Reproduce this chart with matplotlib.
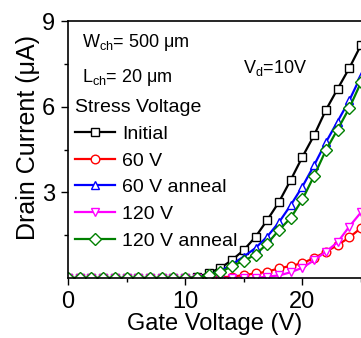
import matplotlib
matplotlib.use('Agg')
import matplotlib.pyplot as plt
from matplotlib.ticker import FixedLocator

plt.rcParams['font.family'] = ['Liberation Sans', 'DejaVu Sans']
plt.rcParams['mathtext.fontset'] = 'custom'
plt.rcParams['mathtext.rm'] = 'Liberation Sans'
plt.rcParams['mathtext.it'] = 'Liberation Sans:italic'

# gate voltage (V)
vg = list(range(0, 26))

# drain current (uA)
initial = [0]*11 + [0.03, 0.17, 0.35, 0.63, 0.98, 1.44, 2.03, 2.66, 3.43, 4.24, 5.0, 5.88, 6.62, 7.35, 8.16]
v60 = [0]*13 + [0.02, 0.05, 0.1, 0.16, 0.22, 0.34, 0.42, 0.52, 0.7, 0.92, 1.15, 1.42, 1.75]
v60_anneal = [0]*12 + [0.1, 0.25, 0.48, 0.75, 1.05, 1.45, 1.95, 2.55, 3.2, 3.95, 4.75, 5.48, 6.22, 7.08]
v120 = [0]*17 + [0.05, 0.09, 0.2, 0.36, 0.62, 0.92, 1.25, 1.8, 2.3]
v120_anneal = [0]*12 + [0.1, 0.2, 0.42, 0.6, 0.82, 1.2, 1.68, 2.1, 2.75, 3.58, 4.47, 5.2, 5.95, 6.85]

series = [
    ('Initial', initial, 'black', 's'),
    ('60 V', v60, 'red', 'o'),
    ('60 V anneal', v60_anneal, 'blue', '^'),
    ('120 V', v120, 'magenta', 'v'),
    ('120 V anneal', v120_anneal, 'green', 'D'),
]

fig = plt.figure(figsize=(3.61, 3.38), dpi=100)
ax = fig.add_axes([68/361, 60/338, 1 - 68/361, 257/338])

for name, vals, col, mk in series:
    ms = 6.5 if mk == 'D' else 6.2
    ax.plot(vg, vals, color=col, marker=mk, ms=ms, mfc='white', mec=col,
            mew=1.0, lw=1.6, label=name)

ax.set_xlim(0, 25)
ax.set_ylim(0, 9)
ax.set_xticks([0, 10, 20])
ax.xaxis.set_minor_locator(FixedLocator([5, 15, 25]))
ax.set_yticks([3, 6, 9])
ax.yaxis.set_minor_locator(FixedLocator([1.5, 4.5, 7.5]))
ax.tick_params(which='major', length=5, width=1, labelsize=17, pad=4.5)
ax.tick_params(which='minor', length=3, width=1)
ax.spines['right'].set_visible(False)
for s in ['left', 'top', 'bottom']:
    ax.spines[s].set_linewidth(1.2)

ax.set_xlabel('Gate Voltage (V)', fontsize=17, labelpad=0)
ax.set_ylabel('Drain Current (\u03bcA)', fontsize=18)
ax.yaxis.set_label_coords(-0.095, 0.545)

ax.text(82/361, 1 - 47/338, 'W$_{\\mathrm{ch}}$= 500 \u03bcm', transform=fig.transFigure,
        fontsize=13, va='baseline')
ax.text(82/361, 1 - 82/338, 'L$_{\\mathrm{ch}}$= 20 \u03bcm', transform=fig.transFigure,
        fontsize=13, va='baseline')
ax.text(243/361, 1 - 73/338, 'V$_{\\mathrm{d}}$=10V', transform=fig.transFigure,
        fontsize=13, va='baseline')

leg = ax.legend(loc='upper left', bbox_to_anchor=(75/361, 1 - 99/338),
                bbox_transform=fig.transFigure, frameon=False, fontsize=14,
                title='Stress Voltage', title_fontsize=14, alignment='left',
                handlelength=2.06, handletextpad=0.36, labelspacing=0.47,
                borderpad=0, borderaxespad=0)

fig.savefig('out.png', dpi=100)
